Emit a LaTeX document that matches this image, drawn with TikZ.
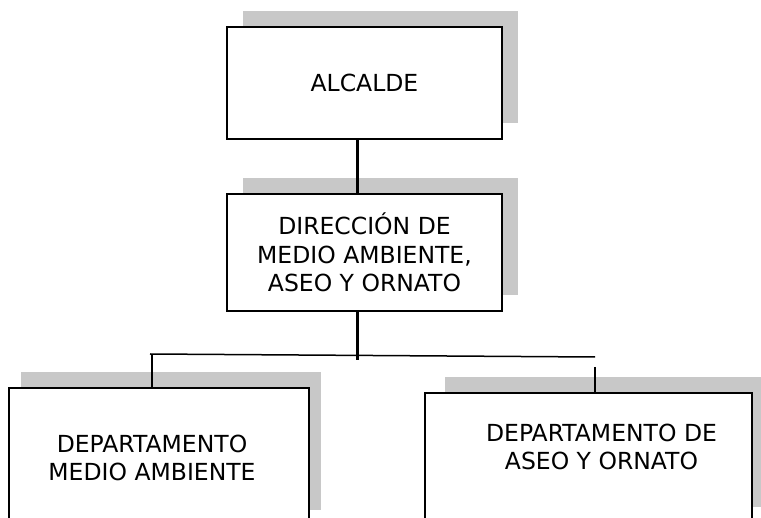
\documentclass[tikz,border=0pt]{standalone}
\usepackage{fontspec}
\setmainfont{DejaVu Sans}
\usetikzlibrary{shadows}
\definecolor{shadowgray}{RGB}{200,200,200}

\begin{document}
\begin{tikzpicture}[x=1pt,y=-1pt,
    unittext/.style={font=\fontsize{23.5}{28.3}\selectfont,align=center},
    unit/.style={draw,line width=2.5pt,fill=white,inner sep=0pt,unittext,
        drop shadow={opacity=1,fill=shadowgray,shadow xshift=#1,shadow yshift=16pt}},
    unit/.default=16pt,
    mainline/.style={line width=3pt},
    busline/.style={line width=1.5pt}]
        \useasboundingbox (0,0) rectangle (761,518);
        \clip (0,0) rectangle (761,518);
        % alcalde
        \node[unit,minimum width=275pt,minimum height=112pt] (alc) at (364.5,83) {ALCALDE};
        % direccion
        \node[unit,minimum width=275pt,minimum height=117pt] (dir) at (364.5,252.5)
            {DIRECCIÓN DE\\MEDIO AMBIENTE,\\ASEO Y ORNATO};
        % departamentos
        \node[unit=12pt,minimum width=300pt,minimum height=138pt,
            label={[unittext,xshift=-7pt,yshift=-1pt]center:DEPARTAMENTO\\MEDIO AMBIENTE}] (ma) at (159,457) {};
        \node[unit=20pt,minimum width=327pt,minimum height=130pt,
            label={[unittext,xshift=13pt,yshift=11pt]center:DEPARTAMENTO DE\\ASEO Y ORNATO}] (ao) at (588.5,458) {};
        % bus points
        \coordinate (busmid) at (357,360);
        \coordinate (busL) at (150,354);
        \coordinate (busR) at (595,357);
        \coordinate (dropL) at (152,355);
        \coordinate (dropR) at (595,367);
        % main line
        \draw[mainline] (alc.south -| busmid) -- (dir.north -| busmid);
        \draw[mainline] (dir.south -| busmid) -- (busmid);
        % bus and drops
        \draw[busline] (busL) -- (busR);
        \draw[busline] (dropL) -- (dropL |- ma.north);
        \draw[busline] (dropR) -- (dropR |- ao.north);
    \end{tikzpicture}
\end{document}
